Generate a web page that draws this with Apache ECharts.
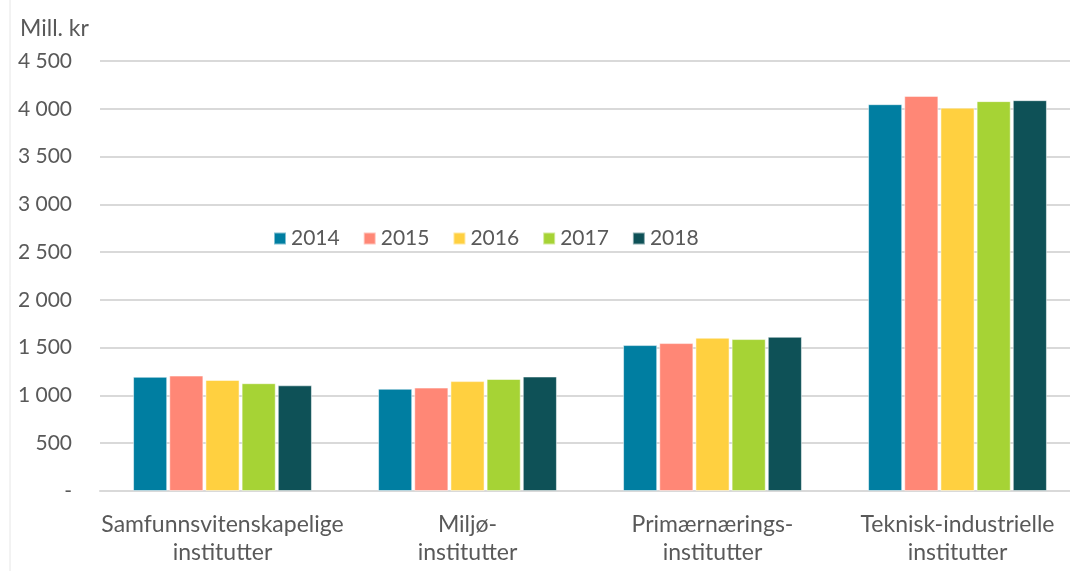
<!DOCTYPE html>
<html>
<head>
<meta charset="utf-8">
<script src="https://cdn.jsdelivr.net/npm/echarts@6/dist/echarts.min.js"></script>
<style>
  html, body { margin: 0; padding: 0; background: #fff; }
  #main { width: 1070px; height: 571px; }
</style>
</head>
<body>
<div id="main"></div>
<script>
var categories = ['Samfunnsvitenskapelige\ninstitutter', 'Miljø-\ninstitutter', 'Primærnærings-\ninstitutter', 'Teknisk-industrielle\ninstitutter'];
var years = ['2014', '2015', '2016', '2017', '2018'];
var colors = ['#007ea1', '#ff8776', '#ffd040', '#a6d335', '#0e5157'];

var v2014 = [1195, 1070, 1527, 4048];
var v2015 = [1208, 1082, 1548, 4135];
var v2016 = [1162, 1150, 1604, 4012];
var v2017 = [1128, 1172, 1590, 4080];
var v2018 = [1106, 1198, 1614, 4090];
var values = [v2014, v2015, v2016, v2017, v2018];

var font = 'Lato, "Noto Sans", sans-serif';

// 4 500 style labels, 0 as dash
function fmt(v) {
    if (v === 0) return '-';
    return String(v).replace(/\B(?=(\d{3})+(?!\d))/g, ' ');
}

var series = [];
years.forEach(function (y, i) {
    series.push({
        name: y,
        type: 'bar',
        data: values[i],
        barGap: '6%',
        barCategoryGap: '27%',
        itemStyle: { color: colors[i], borderColor: 'rgba(255,255,255,0.5)', borderWidth: 1 }
    });
});

var myChart = echarts.init(document.getElementById('main'));
myChart.setOption({
    animation: false,
    textStyle: { fontFamily: font },
    color: colors,
    graphic: [
        { type: 'line', shape: { x1: 10, y1: 0, x2: 10, y2: 571 }, style: { stroke: '#e6e6e6', lineWidth: 1 } },
        { type: 'text', left: 20, top: 17, style: { text: 'Mill. kr', fontSize: 23, fill: '#595959', fontFamily: font } }
    ],
    legend: {
        data: years,
        left: 268,
        top: 223,
        icon: 'rect',
        itemWidth: 12,
        itemHeight: 12,
        itemGap: 23,
        textStyle: { fontSize: 21, color: '#595959', fontFamily: font }
    },
    grid: { left: 100, top: 61, bottom: 80, width: 980, containLabel: false, outerBoundsMode: 'none' },
    xAxis: {
        type: 'category',
        data: categories,
        axisLine: { lineStyle: { color: '#d9d9d9', width: 2 } },
        axisTick: { show: false },
        axisLabel: { interval: 0, fontSize: 23, color: '#595959', lineHeight: 28, margin: 20, fontFamily: font }
    },
    yAxis: {
        type: 'value',
        min: 0,
        max: 4500,
        interval: 500,
        axisLine: { show: false },
        axisTick: { show: false },
        splitLine: { lineStyle: { color: '#d9d9d9', width: 2 } },
        axisLabel: { fontSize: 21, color: '#595959', margin: 28, formatter: fmt, fontFamily: font }
    },
    series: series
});
</script>
</body>
</html>
